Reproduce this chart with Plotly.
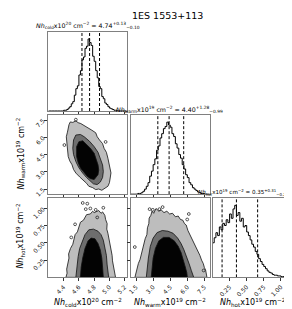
import plotly.graph_objects as go

W, H = 292, 309

# ---------------- data ----------------
cold_start, cold_width = 4.20, 0.02
cold_counts = [0, 0, 0, 0, 0, 0, 0, 0, 0, 0,
               1, 1, 2, 4, 6, 10, 13, 22, 31, 35,
               50, 56, 71, 75, 87, 90, 100, 95, 91, 76,
               69, 56, 46, 34, 31, 20, 17, 11, 9, 6,
               4, 3, 2, 1, 1, 0, 0, 0, 0, 0, 0]
warm_start, warm_width = 1.05, 0.15
warm_counts = [0, 0, 0, 0, 1, 1, 2, 4, 7, 11,
               16, 25, 32, 41, 49, 61, 67, 78, 84, 91,
               94, 100, 96, 93, 84, 80, 70, 64, 55, 50,
               41, 35, 27, 23, 16, 13, 9, 7, 5, 3,
               2, 1, 1, 0, 0, 0]
hot_start, hot_width = 0.0, 0.025
hot_counts = [48, 55, 62, 58, 70, 66, 75, 72, 80, 76,
              88, 82, 95, 100, 86, 90, 78, 82, 70, 72,
              63, 58, 52, 46, 42, 36, 32, 26, 22, 18,
              15, 12, 9, 7, 6, 4, 3, 3, 2, 2,
              1, 1, 1, 1, 0, 0]

cold_q = [4.64, 4.74, 4.87]
warm_q = [3.41, 4.40, 5.68]
hot_q = [0.14, 0.35, 0.66]

cold_range = [4.20, 5.23]
warm_range = [1.05, 7.95]
hot_range = [0.0, 1.15]

cold_ticks = [4.4, 4.6, 4.8, 5.0, 5.2]
cold_ticklabels = ["4.4", "4.6", "4.8", "5.0", "5.2"]
warm_ticks = [1.5, 3.0, 4.5, 6.0, 7.5]
warm_ticklabels = ["1.5", "3.0", "4.5", "6.0", "7.5"]
hot_ticks = [0.25, 0.50, 0.75, 1.00]
hot_ticklabels = ["0.25", "0.50", "0.75", "1.00"]

# contour outlines (cold vs warm)
cw_outer_x = [4.487, 4.52, 4.56, 4.59, 4.625, 4.68, 4.73, 4.77, 4.82, 4.84, 4.87, 4.91,
              4.93, 4.96, 4.98, 4.99, 5.00, 5.02, 5.01, 5.00, 4.98, 4.94, 4.90, 4.86,
              4.82, 4.78, 4.73, 4.70, 4.65, 4.61, 4.56, 4.53, 4.51, 4.48, 4.46, 4.455,
              4.445, 4.44, 4.435, 4.45, 4.46, 4.47]
cw_outer_y = [7.34, 7.30, 7.43, 7.28, 7.20, 6.95, 6.77, 6.62, 6.40, 6.05, 5.77, 5.45,
              5.04, 4.70, 4.18, 3.80, 3.32, 2.90, 2.46, 2.05, 1.74, 1.55, 1.39, 1.50,
              1.45, 1.62, 1.74, 2.00, 2.26, 2.55, 2.89, 3.20, 3.61, 3.95, 4.33, 4.75,
              5.19, 5.60, 6.05, 6.45, 6.85, 7.10]
cw_mid_x = [4.53, 4.56, 4.62, 4.67, 4.74, 4.80, 4.85, 4.88, 4.91, 4.92, 4.91, 4.88, 4.84,
            4.79, 4.75, 4.70, 4.65, 4.60, 4.56, 4.53, 4.52]
cw_mid_y = [5.77, 6.20, 6.25, 6.05, 5.65, 5.19, 4.70, 4.18, 3.60, 3.03, 2.50, 2.10, 1.89,
            1.95, 2.17, 2.50, 2.89, 3.35, 3.89, 4.50, 5.04]
cw_core_x = [4.57, 4.60, 4.65, 4.69, 4.75, 4.80, 4.83, 4.85, 4.86, 4.85, 4.80, 4.75, 4.71,
             4.66, 4.62, 4.59, 4.57]
cw_core_y = [5.19, 5.62, 5.70, 5.47, 5.05, 4.61, 4.10, 3.61, 3.15, 2.75, 2.32, 2.40, 2.60,
             2.95, 3.32, 3.80, 4.33]
cw_pts_x = [4.56, 4.41, 4.95]
cw_pts_y = [7.54, 5.33, 5.60]

# cold vs hot
ch_outer_x = [4.43, 4.445, 4.44, 4.455, 4.47, 4.465, 4.49, 4.52, 4.53, 4.55, 4.58, 4.60,
              4.62, 4.66, 4.68, 4.70, 4.75, 4.78, 4.80, 4.86, 4.89, 4.91, 4.94, 4.95,
              4.97, 4.965, 4.98, 4.99, 5.005, 5.01, 5.02, 5.035, 5.04, 5.05, 5.07, 5.08]
ch_outer_y = [0.0, 0.06, 0.12, 0.20, 0.28, 0.34, 0.42, 0.48, 0.54, 0.62, 0.66, 0.72,
              0.80, 0.83, 0.88, 0.91, 0.92, 0.96, 0.94, 0.97, 0.93, 0.95, 0.90, 0.84,
              0.78, 0.70, 0.64, 0.58, 0.52, 0.45, 0.38, 0.32, 0.24, 0.17, 0.08, 0.0]
ch_mid_x = [4.56, 4.57, 4.59, 4.61, 4.64, 4.68, 4.73, 4.79, 4.85, 4.89, 4.92, 4.94, 4.96,
            4.97, 4.99]
ch_mid_y = [0.0, 0.15, 0.30, 0.42, 0.52, 0.62, 0.69, 0.70, 0.67, 0.62, 0.54, 0.44, 0.32,
            0.18, 0.0]
ch_core_x = [4.62, 4.63, 4.65, 4.68, 4.72, 4.76, 4.81, 4.85, 4.88, 4.90, 4.91, 4.92]
ch_core_y = [0.0, 0.15, 0.28, 0.42, 0.53, 0.57, 0.56, 0.49, 0.40, 0.28, 0.15, 0.0]
ch_pts_x = [4.65, 4.71, 4.69, 4.75, 4.82, 4.92, 4.84, 4.55, 4.50]
ch_pts_y = [1.08, 1.07, 0.99, 1.00, 0.98, 1.01, 0.87, 0.77, 0.58]

# warm vs hot
wh_outer_x = [1.40, 1.50, 1.62, 1.70, 1.85, 1.95, 2.10, 2.20, 2.30, 2.45, 2.50, 2.62,
              2.65, 2.80, 2.90, 3.05, 3.25, 3.50, 3.70, 3.95, 4.20, 4.45, 4.70, 4.95,
              5.20, 5.40, 5.60, 5.75, 5.90, 6.05, 6.20, 6.35, 6.50, 6.70, 6.80, 6.95,
              7.10, 7.25, 7.40, 7.50, 7.60, 7.72]
wh_outer_y = [0.0, 0.07, 0.12, 0.20, 0.26, 0.33, 0.42, 0.50, 0.56, 0.62, 0.72, 0.78,
              0.86, 0.90, 0.96, 0.93, 1.00, 0.96, 0.98, 0.94, 0.96, 0.92, 0.93, 0.88,
              0.89, 0.84, 0.83, 0.78, 0.76, 0.68, 0.63, 0.58, 0.52, 0.46, 0.42, 0.36,
              0.32, 0.25, 0.20, 0.14, 0.11, 0.0]
wh_mid_x = [2.40, 2.48, 2.58, 2.75, 3.00, 3.35, 3.80, 4.30, 4.75, 5.15, 5.45, 5.70, 5.90,
            6.15, 6.35, 6.56]
wh_mid_y = [0.0, 0.15, 0.28, 0.45, 0.57, 0.65, 0.68, 0.67, 0.64, 0.57, 0.49, 0.40, 0.32,
            0.20, 0.10, 0.0]
wh_core_x = [2.83, 2.90, 3.00, 3.20, 3.50, 3.90, 4.40, 4.85, 5.20, 5.45, 5.65, 5.82, 5.95, 6.00]
wh_core_y = [0.0, 0.15, 0.28, 0.42, 0.53, 0.58, 0.58, 0.53, 0.45, 0.36, 0.26, 0.15, 0.07, 0.0]
wh_pts_x = [2.69, 2.97, 3.55, 3.83, 6.13, 5.99, 1.39, 7.43]
wh_pts_y = [0.99, 0.98, 0.99, 1.02, 0.92, 0.84, 0.44, 0.10]

# ---------------- layout helpers ----------------
FONT = "DejaVu Sans"
col_px = [(37, 117), (121, 201), (204, 284)]
row_px = [(24, 104), (108, 188), (192, 272)]


def xdom(c):
    a, b = col_px[c]
    return [a / W, b / W]


def ydom(r):
    a, b = row_px[r]
    return [1 - b / H, 1 - a / H]


fig = go.Figure()

panels = {1: (0, 0), 2: (1, 0), 3: (1, 1), 4: (2, 0), 5: (2, 1), 6: (2, 2)}
col_info = {0: (cold_range, cold_ticks, cold_ticklabels),
            1: (warm_range, warm_ticks, warm_ticklabels),
            2: (hot_range, hot_ticks, hot_ticklabels)}

layout_axes = {}
for k, (r, c) in panels.items():
    xr, xt, xl = col_info[c]
    xa = dict(domain=xdom(c), range=xr, tickvals=xt, ticktext=xl,
              showticklabels=(r == 2), tickangle=-45, ticks="outside", ticklen=3,
              tickwidth=0.8, tickcolor="#333", showline=True, linecolor="#808080",
              linewidth=1, mirror=True, showgrid=False, zeroline=False,
              tickfont=dict(size=6, family=FONT, color="#222"),
              anchor="y" + ("" if k == 1 else str(k)))
    if r == c:
        counts = {0: cold_counts, 1: warm_counts, 2: hot_counts}[c]
        ya = dict(domain=ydom(r), range=[0, 1.1 * max(counts)], showticklabels=False,
                  ticks="", showline=True, linecolor="#808080", linewidth=1, mirror=True,
                  showgrid=False, zeroline=False)
    else:
        yr, yt, yl = col_info[r]
        ya = dict(domain=ydom(r), range=yr, tickvals=yt, ticktext=yl,
                  showticklabels=(c == 0), tickangle=-45, ticks="outside", ticklen=3,
                  tickwidth=0.8, tickcolor="#333", showline=True, linecolor="#808080",
                  linewidth=1, mirror=True, showgrid=False, zeroline=False,
                  tickfont=dict(size=6, family=FONT, color="#222"))
    ya["anchor"] = "x" + ("" if k == 1 else str(k))
    layout_axes["xaxis" + ("" if k == 1 else str(k))] = xa
    layout_axes["yaxis" + ("" if k == 1 else str(k))] = ya


def ax(k):
    s = "" if k == 1 else str(k)
    return dict(xaxis="x" + s, yaxis="y" + s)


# histograms
for k, start, width, counts, q in [(1, cold_start, cold_width, cold_counts, cold_q),
                                   (3, warm_start, warm_width, warm_counts, warm_q),
                                   (6, hot_start, hot_width, hot_counts, hot_q)]:
    edges = [start + i * width for i in range(len(counts) + 1)]
    xs = [edges[0]] + edges
    ys = [0] + counts + [counts[-1]]
    fig.add_trace(go.Scatter(x=xs + [edges[-1]], y=ys + [0], mode="lines",
                             line=dict(color="black", width=1, shape="hv"),
                             hoverinfo="skip", showlegend=False, **ax(k)))
    top = 1.1 * max(counts)
    for v in q:
        fig.add_trace(go.Scatter(x=[v, v], y=[0, top], mode="lines",
                                 line=dict(color="black", width=1, dash="3px,2px"),
                                 hoverinfo="skip", showlegend=False, **ax(k)))

# 2D contour panels
for k, layers, pts in [
    (2, [(cw_outer_x, cw_outer_y), (cw_mid_x, cw_mid_y), (cw_core_x, cw_core_y)],
     (cw_pts_x, cw_pts_y)),
    (4, [(ch_outer_x, ch_outer_y), (ch_mid_x, ch_mid_y), (ch_core_x, ch_core_y)],
     (ch_pts_x, ch_pts_y)),
    (5, [(wh_outer_x, wh_outer_y), (wh_mid_x, wh_mid_y), (wh_core_x, wh_core_y)],
     (wh_pts_x, wh_pts_y)),
]:
    fills = ["#bdbdbd", "#6e6e6e", "#030303"]
    for (lx, ly), fc in zip(layers, fills):
        fig.add_trace(go.Scatter(x=lx + [lx[0]], y=ly + [ly[0]], mode="lines",
                                 fill="toself", fillcolor=fc,
                                 line=dict(color="#111", width=0.8),
                                 hoverinfo="skip", showlegend=False, **ax(k)))
    fig.add_trace(go.Scatter(x=pts[0], y=pts[1], mode="markers",
                             marker=dict(symbol="circle-open", size=2.8, color="#111",
                                         line=dict(width=0.7, color="#111")),
                             hoverinfo="skip", showlegend=False, **ax(k)))

# ---------------- text ----------------
ann = []


def add_text(text, px, py, size, angle=0, anchor="center"):
    ann.append(dict(text=text, x=px / W, y=1 - py / H, xref="paper", yref="paper",
                    showarrow=False, textangle=angle, xanchor=anchor, yanchor="middle",
                    font=dict(size=size, family=FONT, color="black")))


def lab(sub, exp):
    return ("<i>Nh</i><sub><span style='color:black'>" + sub + "</span></sub>x10<sup>"
            + exp + "</sup> cm<sup>−2</sup>")


def val(v, hi, lo):
    return " = " + v + "<sup>+" + hi + "</sup><sub><span style='color:black'>−" + lo + "</span></sub>"


add_text("1ES 1553+113", 158, 8, 9.5)
add_text(lab("cold", "20") + val("4.74", "0.13", "0.10"), 77, 18, 6.3)
add_text(lab("warm", "19") + val("4.40", "1.28", "0.99"), 160, 102, 6.3)
add_text(lab("hot", "19") + val("0.35", "0.31", "0.21"), 284, 186, 5.6, anchor="right")
add_text(lab("cold", "20"), 77, 297, 8)
add_text(lab("warm", "19"), 161, 297, 8)
add_text(lab("hot", "19"), 245, 297, 8)
add_text(lab("warm", "19"), 9, 147, 8, -90)
add_text(lab("hot", "19"), 9, 230, 8, -90)

fig.update_layout(width=W, height=H, margin=dict(l=0, r=0, t=0, b=0),
                  paper_bgcolor="white", plot_bgcolor="white",
                  annotations=ann, **layout_axes)

fig.write_html("out.html")
